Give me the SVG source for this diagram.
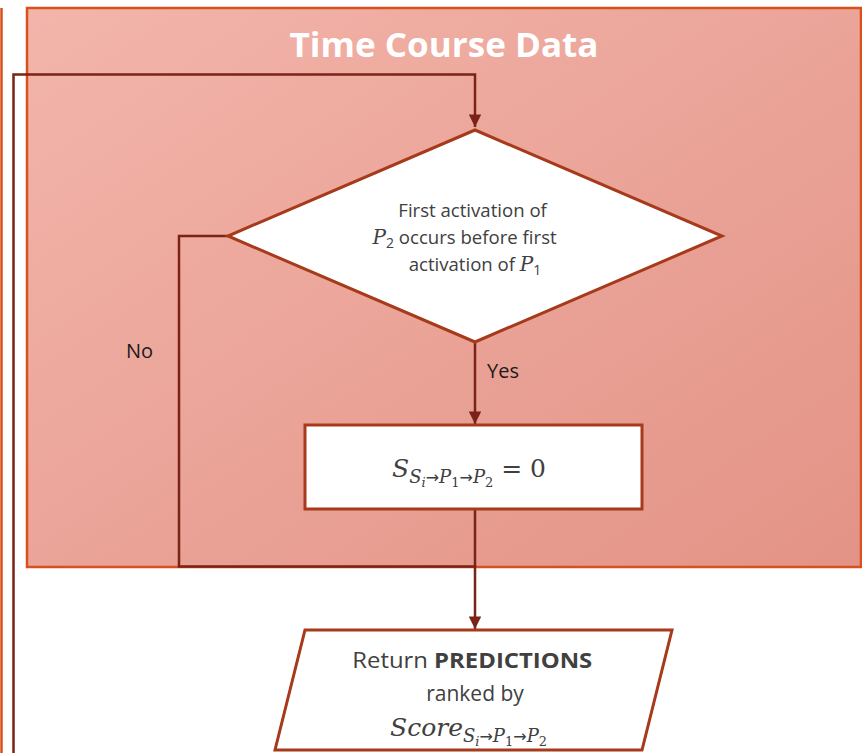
<svg xmlns="http://www.w3.org/2000/svg" width="862" height="753" viewBox="0 0 862 753">
  <defs>
    <linearGradient id="panelFill" x1="0" y1="0" x2="1" y2="1">
      <stop offset="0" stop-color="#f3b5ab"/>
      <stop offset="1" stop-color="#e39386"/>
    </linearGradient>
    <marker id="arrow" viewBox="0 0 10 10" refX="10" refY="5" markerWidth="5.5" markerHeight="5" orient="auto" markerUnits="strokeWidth">
      <path d="M0,0 L10,5 L0,10 Z" fill="#7a2316"/>
    </marker>
  </defs>
  <style>
    .panel { fill: url(#panelFill); stroke: #d9501f; stroke-width: 2.5; }
    .edge { fill: none; stroke: #7a2316; stroke-width: 2.5; }
    .shape { fill: #ffffff; stroke: #a63a1b; stroke-width: 3; }
    .lbl { font-family: "Open Sans", "Liberation Sans", sans-serif; fill: #404040; }
    .math { font-family: "DejaVu Serif", "Liberation Serif", serif; font-style: italic; fill: #404040; }
    .up { font-family: "DejaVu Serif", "Liberation Serif", serif; fill: #404040; }
    .arr { font-family: "DejaVu Sans", sans-serif; fill: #404040; }
  </style>

  <!-- neighbouring panel edge -->
  <line x1="1.5" y1="8" x2="1.5" y2="753" stroke="#d9501f" stroke-width="2.5"/>

  <!-- Time Course Data panel -->
  <g id="panel">
    <rect class="panel" x="27" y="8" width="834" height="559"/>
    <text x="444" y="57" text-anchor="middle" font-family="Open Sans, Liberation Sans, sans-serif" font-weight="bold" font-size="34" textLength="309" lengthAdjust="spacingAndGlyphs" fill="#ffffff">Time Course Data</text>
  </g>

  <!-- connectors -->
  <g id="connectors">
    <path class="edge" d="M13.5,753 V74.5 H475 V127" marker-end="url(#arrow)"/>
    <path class="edge" d="M475,343 V424" marker-end="url(#arrow)"/>
    <path class="edge" d="M228,236 H179 V566.5 H475 V629" marker-end="url(#arrow)"/>
    <path class="edge" d="M475,509 V566.5"/>
    <text class="lbl" x="487" y="378" font-size="20" style="fill:#1a1a1a">Yes</text>
    <text class="lbl" x="126" y="358" font-size="20" style="fill:#1a1a1a">No</text>
  </g>

  <!-- decision -->
  <g id="decision">
    <polygon class="shape" points="475,130 722,236 475,342 228,236"/>
    <text class="lbl" text-anchor="middle" font-size="18.6">
      <tspan x="475" y="217">First activation of</tspan>
      <tspan x="467" y="244"><tspan class="math" font-size="20">P</tspan><tspan font-size="14" dy="4">2</tspan><tspan dy="-4"> occurs before first</tspan></tspan>
      <tspan x="475" y="271">activation of <tspan class="math" font-size="20">P</tspan><tspan font-size="14" dy="4">1</tspan></tspan>
    </text>
  </g>

  <!-- score assignment -->
  <g id="assign">
    <rect class="shape" x="305" y="425" width="337" height="84"/>
    <text x="392" y="477" font-size="25"><tspan class="math">S</tspan><tspan class="math" font-size="18" dy="6">S</tspan><tspan class="math" font-size="13" dy="4">i</tspan><tspan class="arr" font-size="16" dy="-4">→</tspan><tspan class="math" font-size="18">P</tspan><tspan class="up" font-size="13" dy="4">1</tspan><tspan class="arr" font-size="16" dy="-4">→</tspan><tspan class="math" font-size="18">P</tspan><tspan class="up" font-size="13" dy="4">2</tspan><tspan class="up" font-size="25" dy="-10"> = 0</tspan></text>
  </g>

  <!-- output -->
  <g id="output">
    <polygon class="shape" points="305,630 672,630 642,750 275,750"/>
    <text class="lbl" text-anchor="middle" font-size="21">
      <tspan x="475" y="668" textLength="240" lengthAdjust="spacingAndGlyphs">Return <tspan font-weight="bold">PREDICTIONS</tspan></tspan>
      <tspan x="475" y="701">ranked by</tspan>
    </text>
    <text x="390" y="736" font-size="25"><tspan class="math">Score</tspan><tspan class="math" font-size="18" dy="6">S</tspan><tspan class="math" font-size="13" dy="4">i</tspan><tspan class="arr" font-size="16" dy="-4">→</tspan><tspan class="math" font-size="18">P</tspan><tspan class="up" font-size="13" dy="4">1</tspan><tspan class="arr" font-size="16" dy="-4">→</tspan><tspan class="math" font-size="18">P</tspan><tspan class="up" font-size="13" dy="4">2</tspan></text>
  </g>
</svg>
